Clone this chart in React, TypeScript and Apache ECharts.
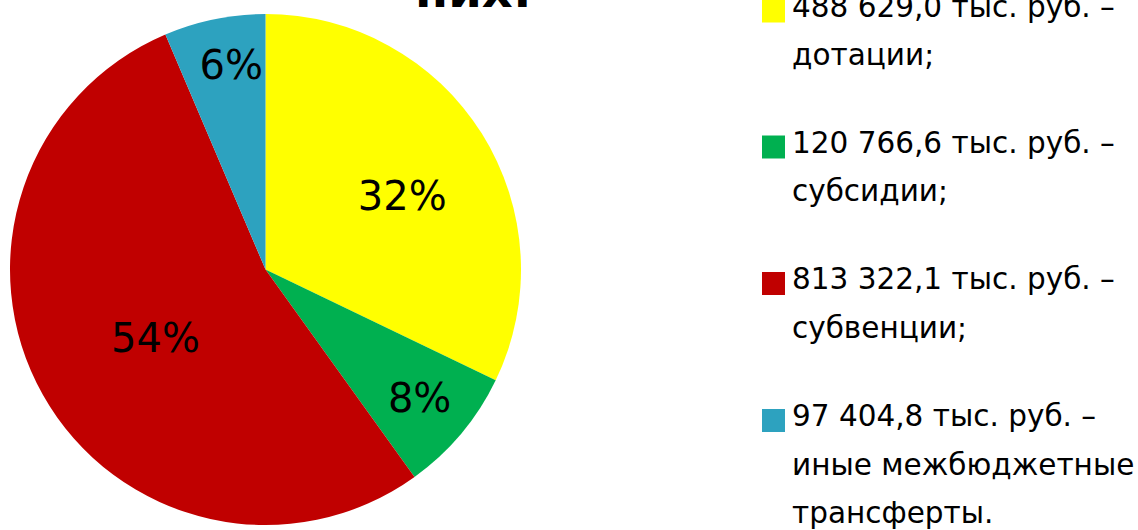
import React, { useEffect, useRef } from "react";
import * as echarts from "echarts";

const categories = ["дотации;", "субсидии;", "субвенции;", "иные межбюджетные\nтрансферты."];
const values = [488629.0, 120766.6, 813322.1, 97404.8];
const colors = ["#FFFF00", "#00B050", "#C00000", "#2DA2BF"];
const titleText = "них:";
const unitText = "тыс. руб. –";

const labelOffsets = [[26, -4], [54, 44], [4, 4], [-8, -76]];
const iconCenters = [11, 147, 283.5, 420.5];

function fmt(v: number): string {
  const [i, d] = v.toFixed(1).split(".");
  const withSpaces = i.replace(/\B(?=(\d{3})+(?!\d))/g, " ");
  return withSpaces + "," + d;
}

export default function App() {
  const ref = useRef<HTMLDivElement>(null);
  useEffect(() => {
    if (!ref.current) return;
    const chart = echarts.init(ref.current, undefined, { renderer: "svg" });
    const font = "DejaVu Sans";
    const lh = 48.5;
    const fs = 29.5;
    const legends = categories.map((name, idx) => {
      const n = 1 + name.split("\n").length;
      const H = lh * (2 * n - 1) - 9;
      return {
        show: true,
        orient: "vertical",
        left: 762,
        top: iconCenters[idx] - H / 2,
        padding: 0,
        itemWidth: 23,
        itemHeight: 23,
        itemGap: 8,
        icon: "rect",
        selectedMode: false,
        data: [name],
        formatter: (nm: string) => {
          const k = categories.indexOf(nm);
          const lines = [fmt(values[k]) + " " + unitText, ...nm.split("\n")];
          const blanks: string[] = [];
          for (let b = 0; b < lines.length - 1; b++) blanks.push(b === 0 ? "{s| }" : "{b| }");
          return [...blanks, ...lines.map((l) => "{t|" + l + "}")].join("\n");
        },
        textStyle: {
          fontFamily: font,
          fontSize: fs,
          color: "#000",
          lineHeight: lh,
          padding: [0, 0, 0, 2],
          rich: {
            s: { lineHeight: lh - 9, fontSize: fs, fontFamily: font },
            b: { lineHeight: lh, fontSize: fs, fontFamily: font },
            t: { lineHeight: lh, fontSize: fs, fontFamily: font, color: "#000" },
          },
        },
      };
    });
    chart.setOption({
      animation: false,
      title: {
        text: titleText,
        left: 415,
        top: -34,
        padding: 0,
        textStyle: { fontFamily: font, fontSize: 48, fontWeight: "bold", color: "#000" },
      },
      legend: legends,
      series: [
        {
          type: "pie",
          center: [265.5, 269.5],
          radius: 255.5,
          startAngle: 90,
          clockwise: true,
          avoidLabelOverlap: false,
          label: {
            show: true,
            position: "inside",
            fontFamily: font,
            fontSize: 40,
            color: "#000",
            formatter: (p: any) => Math.round(p.percent) + "%",
          },
          labelLine: { show: false },
          itemStyle: { borderWidth: 0 },
          emphasis: { disabled: true },
          data: categories.map((name, i) => ({
            name,
            value: values[i],
            itemStyle: { color: colors[i] },
            label: { offset: labelOffsets[i] },
          })),
        },
      ],
    });
    return () => chart.dispose();
  }, []);
  return (
    <div
      ref={ref}
      style={{ position: "fixed", left: 0, top: 0, width: 1138, height: 530, background: "#fff" }}
    />
  );
}
